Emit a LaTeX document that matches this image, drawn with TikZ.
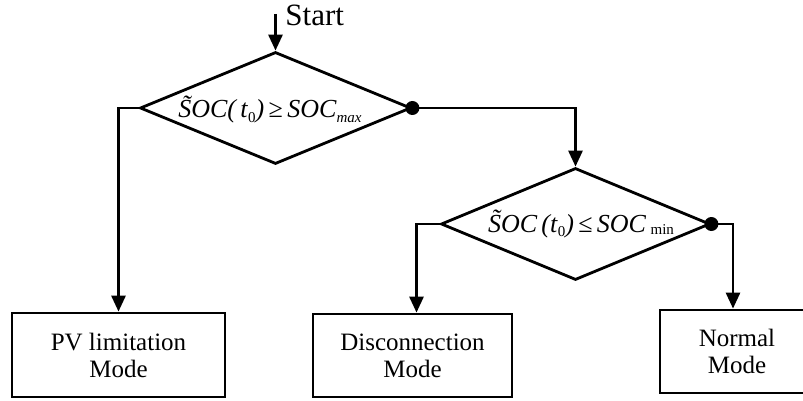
\documentclass[tikz,border=0pt]{standalone}
\usepackage{fontspec}
\setmainfont{Liberation Serif}
\usetikzlibrary{shapes.geometric,arrows.meta}
\newcommand\mysub[2][-0.35ex]{\raisebox{#1}{\fontsize{15}{15}\selectfont #2}}
\begin{document}
\begin{tikzpicture}[x=1pt,y=-1pt,
  line width=2.8pt,
  conn/.style={draw,line width=2.8pt,-{Triangle[length=16pt,width=14pt]}},
  decision/.style={diamond,draw,line width=2.8pt,inner sep=0pt,minimum width=#1,minimum height=112pt},
  modebox/.style={rectangle,draw,line width=2.8pt,inner sep=0pt,align=center,font=\fontsize{25}{27}\selectfont},
  formula/.style={inner sep=0pt,font=\fontsize{26}{30}\selectfont},
  dot/.style={circle,fill=black,inner sep=0pt,minimum size=14pt}]
\useasboundingbox (0,0) rectangle (803,401);
% decisions
\node[decision=271pt] (d1) at (275.5,108) {};
\node[decision=269pt] (d2) at (575.5,224) {};
\node[formula,anchor=base] (f1) at (270,118)
  {\textit{\~{S}OC(\,t}\mysub{0}\textit{)}\,≥\,\textit{SOC}\mysub{\textit{max}}};
\node[formula,anchor=base] (f2) at (581,232)
  {\textit{\~{S}OC\,(t}\mysub{0}\textit{)}\,≤\,\textit{SOC}\,\mysub[-0.2ex]{min}};
% boxes
\node[modebox,minimum width=213pt,minimum height=84pt] (pv) at (118.5,355) {PV limitation\\Mode};
\node[modebox,minimum width=199pt,minimum height=83pt] (dc) at (412.5,355.5) {Disconnection\\Mode};
\node[modebox,minimum width=146pt,minimum height=83pt] (nm) at (733,351.5) {\hspace*{8pt}Normal\\\hspace*{8pt}Mode};
% start
\coordinate (s) at (275.5,14);
\node[anchor=base west,inner sep=0pt,font=\fontsize{31}{31}\selectfont] (st) at (284,26) {Start};
\draw[conn] (s) -- (d1.north);
% connectors
\draw[conn] (d1.west) -| (pv.north);
\draw[conn] (d1.east) -| (d2.north);
\draw[conn] (d2.west) -| ([xshift=4pt]dc.north);
\draw[conn] (d2.east) -| (nm.north);
\node[dot] (p1) at (d1.east) {};
\node[dot] (p2) at (d2.east) {};
\end{tikzpicture}
\end{document}
